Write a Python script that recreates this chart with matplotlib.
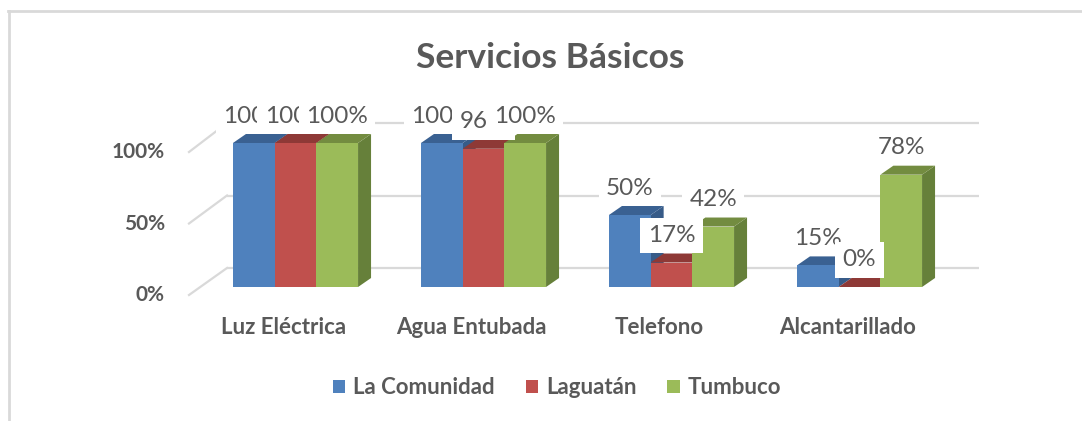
import matplotlib
matplotlib.use("Agg")
import matplotlib.pyplot as plt
from matplotlib.patches import Polygon, Patch
from matplotlib.lines import Line2D

# ---- data ----
categories = ["Luz Eléctrica", "Agua Entubada", "Telefono", "Alcantarillado"]
series_names = ["La Comunidad", "Laguatán", "Tumbuco"]
la_comunidad = [100, 100, 50, 15]
laguatan = [100, 96, 17, 0]
tumbuco = [100, 100, 42, 78]
y_ticks = [0, 50, 100]
y_tick_labels = ["0%", "50%", "100%"]
title = "Servicios Básicos"

values = [la_comunidad, laguatan, tumbuco]

# ---- style ----
FONT = "Lato"
TXT = "#595959"
GRID = "#d9d9d9"
front_cols = ["#4F81BD", "#C0504D", "#9BBB59"]
top_cols = ["#3A6192", "#8E3936", "#738C40"]
side_cols = ["#375B88", "#893634", "#66803A"]

W, H, DPI = 1082, 421, 100
fig = plt.figure(figsize=(W / DPI, H / DPI), dpi=DPI)
ax = fig.add_axes([0, 0, 1, 1])
ax.set_axis_off()

# pixel geometry of the chart (reference layout)
x0_px, ux_px = 295.5, 188.0      # group 0 centre, pixels per category
y0_px, uy_px = 287.0, 1.44       # baseline (from top), pixels per percent
ax.set_xlim(-x0_px / ux_px, (W - x0_px) / ux_px)
ax.set_ylim(-(H - y0_px) / uy_px, y0_px / uy_px)

def px_dx(p):
    return p / ux_px

def px_dy(p):
    return p / uy_px

bw = 41.7 / ux_px           # bar width
ddx, ddy = px_dx(13), px_dy(9)  # bar depth

# back wall gridlines and floor/left diagonals
back_off = px_dy(19)
back_scale = 1.45 / 1.44
wall_x0, wall_x1 = px_dx(227 - x0_px), px_dx(979 - x0_px)
front_x = px_dx(189 - x0_px)
front_off = -px_dy(8)
front_scale = 1.43 / 1.44
for v in y_ticks:
    yb = v * back_scale + back_off
    yf = v * front_scale + front_off
    ax.plot([wall_x0, wall_x1], [yb, yb], color=GRID, lw=1.6, zorder=1, solid_capstyle="butt")
    ax.plot([front_x, wall_x0], [yf, yb], color=GRID, lw=1.6, zorder=1)

# tick labels
for v, lab in zip(y_ticks, y_tick_labels):
    ax.text(px_dx(165 - x0_px), v * front_scale + front_off, lab, ha="right", va="center",
            fontsize=15, fontweight="bold", color=TXT, family=FONT)

# bars with pseudo-3D faces
z = 2
for i in range(len(categories)):
    for j in range(len(values)):
        v = values[j][i]
        xl = i - 1.5 * bw + j * bw
        side = Polygon([(xl + bw, 0), (xl + bw + ddx, ddy), (xl + bw + ddx, v + ddy), (xl + bw, v)],
                       closed=True, fc=side_cols[j], ec="none", zorder=z)
        ax.add_patch(side)
        top = Polygon([(xl, v), (xl + bw, v), (xl + bw + ddx, v + ddy), (xl + ddx, v + ddy)],
                      closed=True, fc=top_cols[j], ec="none", zorder=z + 0.1)
        ax.add_patch(top)
        ax.bar(xl, v, width=bw, align="edge", color=front_cols[j], zorder=z + 0.2, linewidth=0)
        z += 1

# data labels (later series drawn above earlier ones, as in the reference)
zl = 100
for j in range(len(values)):
    for i in range(len(categories)):
        v = values[j][i]
        xc = i - 1.5 * bw + j * bw + bw / 2
        ax.annotate(f"{v}%", xy=(xc, v), xytext=(0, 27), textcoords="offset pixels",
                    ha="center", va="center", fontsize=17.5, color=TXT, family=FONT,
                    bbox=dict(boxstyle="square,pad=0.3", fc="white", ec="none"), zorder=zl)
        zl += 1

# category labels
for i, c in enumerate(categories):
    ax.text(i - px_dx(12), -px_dy(41), c, ha="center", va="center", fontsize=16,
            fontweight="bold", color=TXT, family=FONT)

# title
fig.text(550 / W, 1 - 58 / H, title, ha="center", va="center", fontsize=25.5,
         fontweight="bold", color=TXT, family=FONT)

# legend
handles = [Patch(facecolor=c, edgecolor="none", label=n) for c, n in zip(front_cols, series_names)]
fig.legend(handles=handles, loc="center", bbox_to_anchor=(557 / W, 1 - 388 / H), ncol=3,
           frameon=False, prop={"family": FONT, "weight": "bold", "size": 16},
           handlelength=0.55, handleheight=0.55, handletextpad=0.35, columnspacing=1.4,
           labelcolor=TXT)

# chart border (top and left)
fig.add_artist(Line2D([8 / W, 1], [1 - 11 / H, 1 - 11 / H], transform=fig.transFigure, color=GRID, lw=2))
fig.add_artist(Line2D([9 / W, 9 / W], [1 - 11 / H, 0], transform=fig.transFigure, color=GRID, lw=2))

fig.savefig("out.png", dpi=DPI)
